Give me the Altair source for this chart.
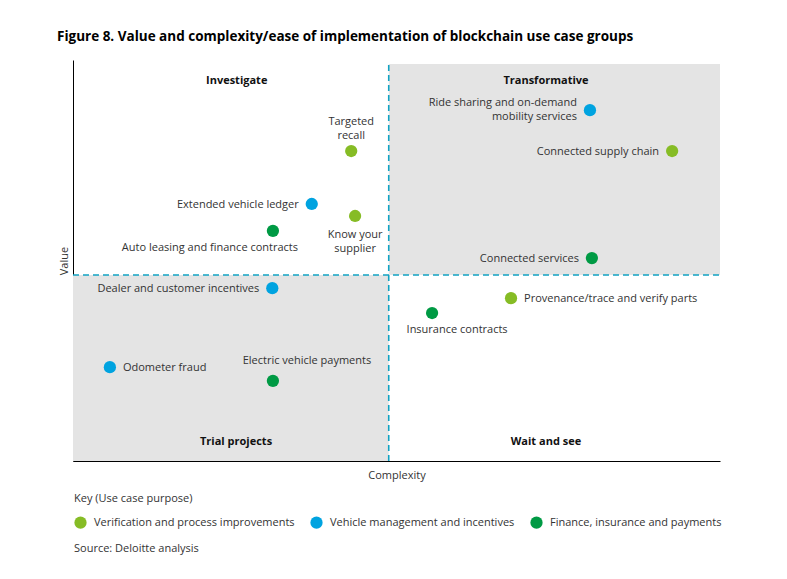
import altair as alt
import pandas as pd

# ---------------- data ----------------
names = [
    "Ride sharing and on-demand mobility services",
    "Connected supply chain",
    "Connected services",
    "Targeted recall",
    "Extended vehicle ledger",
    "Know your supplier",
    "Auto leasing and finance contracts",
    "Dealer and customer incentives",
    "Odometer fraud",
    "Electric vehicle payments",
    "Insurance contracts",
    "Provenance/trace and verify parts",
]
labels = [
    "Ride sharing and on-demand\nmobility services",
    "Connected supply chain",
    "Connected services",
    "Targeted\nrecall",
    "Extended vehicle ledger",
    "Know your\nsupplier",
    "Auto leasing and finance contracts",
    "Dealer and customer incentives",
    "Odometer fraud",
    "Electric vehicle payments",
    "Insurance contracts",
    "Provenance/trace and verify parts",
]
complexity = [79.9, 92.6, 80.2, 43.0, 36.9, 43.6, 30.9, 30.8, 5.7, 30.9, 55.5, 67.7]
value = [87.5, 77.3, 50.6, 77.3, 64.1, 61.1, 57.4, 43.1, 23.4, 20.0, 36.9, 40.6]
groups = [
    "Vehicle management and incentives",
    "Verification and process improvements",
    "Finance, insurance and payments",
    "Verification and process improvements",
    "Vehicle management and incentives",
    "Verification and process improvements",
    "Finance, insurance and payments",
    "Vehicle management and incentives",
    "Vehicle management and incentives",
    "Finance, insurance and payments",
    "Finance, insurance and payments",
    "Verification and process improvements",
]

group_names = [
    "Verification and process improvements",
    "Vehicle management and incentives",
    "Finance, insurance and payments",
]
group_colors = ["#86BC25", "#00A3E0", "#009A44"]

quadrant_names = ["Investigate", "Transformative", "Trial projects", "Wait and see"]
quadrant_x = [25.3, 73.1, 25.2, 73.1]
quadrant_y = [94.8, 94.8, 4.7, 4.7]

divider_x = 48.8
divider_y = 46.4
shaded_x = [48.8, 0.0]
shaded_x2 = [100.0, 48.8]
shaded_y = [46.4, 0.0]
shaded_y2 = [99.0, 46.4]

title_text = "Figure 8. Value and complexity/ease of implementation of blockchain use case groups"
legend_title = "Key (Use case purpose)"
source_text = "Source: Deloitte analysis"

# label placement groups
left_of = [
    "Connected supply chain",
    "Connected services",
    "Extended vehicle ledger",
    "Dealer and customer incentives",
]
right_of = ["Odometer fraud", "Provenance/trace and verify parts"]

# ---------------- tables ----------------
pts = pd.DataFrame({"name": names, "label": labels, "x": complexity,
                    "y": value, "group": groups})
quads = pd.DataFrame({"name": quadrant_names, "x": quadrant_x, "y": quadrant_y})
shade = pd.DataFrame({"x": shaded_x, "x2": shaded_x2, "y": shaded_y, "y2": shaded_y2})
vline = pd.DataFrame({"x": [divider_x], "y": [0.0], "y2": [99.0]})
hline = pd.DataFrame({"y": [divider_y], "x": [0.0], "x2": [100.0]})

FONT = "Open Sans"
TXT = "#333333"
DASH = "#12A2C2"

xs = alt.Scale(domain=[0, 100], nice=False, zero=False)
ys = alt.Scale(domain=[0, 100], nice=False, zero=False)
xax = alt.Axis(title="Complexity", labels=False, ticks=False, grid=False,
               domainColor="#000000", titlePadding=8)
yax = alt.Axis(title="Value", labels=False, ticks=False, grid=False,
               domainColor="#000000", titlePadding=4)


def X(f="x"):
    return alt.X(f"{f}:Q", scale=xs, axis=xax)


def Y(f="y"):
    return alt.Y(f"{f}:Q", scale=ys, axis=yax)


shade_layer = alt.Chart(shade).mark_rect(color="#E4E4E4").encode(
    x=X(), x2="x2:Q", y=Y(), y2="y2:Q")

vline_layer = alt.Chart(vline).mark_rule(
    color=DASH, strokeWidth=1.6, strokeDash=[6, 4]).encode(x=X(), y=Y(), y2="y2:Q")
hline_layer = alt.Chart(hline).mark_rule(
    color=DASH, strokeWidth=1.6, strokeDash=[6, 4]).encode(y=Y(), x=X(), x2="x2:Q")

quad_layer = alt.Chart(quads).mark_text(
    font=FONT, fontSize=11, fontWeight="bold", color="#111111").encode(
    x=X(), y=Y(), text="name:N")

point_layer = alt.Chart(pts).mark_circle(size=150, opacity=1).encode(
    x=X(), y=Y(),
    color=alt.Color("group:N",
                    scale=alt.Scale(domain=group_names, range=group_colors),
                    legend=alt.Legend(
                        title=legend_title, orient="none", legendX=1, legendY=433,
                        direction="horizontal", symbolType="circle", symbolSize=150,
                        symbolStrokeWidth=0, labelFont=FONT, labelFontSize=11,
                        labelColor=TXT, titleFont=FONT, titleFontSize=11,
                        titleFontWeight="normal", titleColor=TXT, titlePadding=12,
                        columnPadding=15, labelOffset=7, labelLimit=400)))


def label_layer(sel, **kw):
    base = dict(font=FONT, fontSize=11, color=TXT, lineBreak="\n", lineHeight=14)
    base.update(kw)
    return alt.Chart(pts).transform_filter(
        alt.FieldOneOfPredicate(field="name", oneOf=sel)).mark_text(**base).encode(
        x=X(), y=Y(), text="label:N")


lab_left = label_layer(left_of, align="right", baseline="middle", dx=-13, dy=1)
lab_ride = label_layer(["Ride sharing and on-demand mobility services"],
                       align="right", baseline="middle", dx=-13, dy=-7)
lab_right = label_layer(right_of, align="left", baseline="middle", dx=13, dy=1)
lab_above = label_layer(["Targeted recall"], align="center", baseline="bottom", dy=-24)
lab_below = label_layer(["Know your supplier"], align="center", baseline="top", dy=13)
lab_auto = label_layer(["Auto leasing and finance contracts"], align="center",
                       baseline="middle", dx=-63, dy=17)
lab_ev = label_layer(["Electric vehicle payments"], align="center",
                     baseline="middle", dx=34, dy=-20)
lab_ins = label_layer(["Insurance contracts"], align="center",
                      baseline="middle", dx=25, dy=17)

source_layer = alt.Chart(pd.DataFrame({"t": [source_text]})).mark_text(
    font=FONT, fontSize=11, color=TXT, align="left", baseline="middle").encode(
    x=alt.value(1), y=alt.value(489), text="t:N")

chart = alt.layer(
    shade_layer, vline_layer, hline_layer, quad_layer, point_layer,
    lab_left, lab_ride, lab_right, lab_above, lab_below, lab_auto, lab_ev, lab_ins,
    source_layer,
).properties(
    width=647, height=401,
    title=alt.TitleParams(text=title_text, anchor="start", font=FONT, fontSize=13.5,
                          fontWeight="bold", color="#000000", dx=-1, offset=17),
    autosize=alt.AutoSizeParams(type="none"),
    padding={"left": 65, "top": 52, "right": 50, "bottom": 100},
).configure_view(stroke=None).configure_axis(
    titleFont=FONT, titleFontSize=11, titleColor=TXT, titleFontWeight="normal",
    domainWidth=1)

chart.save("out.html", embed_options={"renderer": "svg", "actions": False})
